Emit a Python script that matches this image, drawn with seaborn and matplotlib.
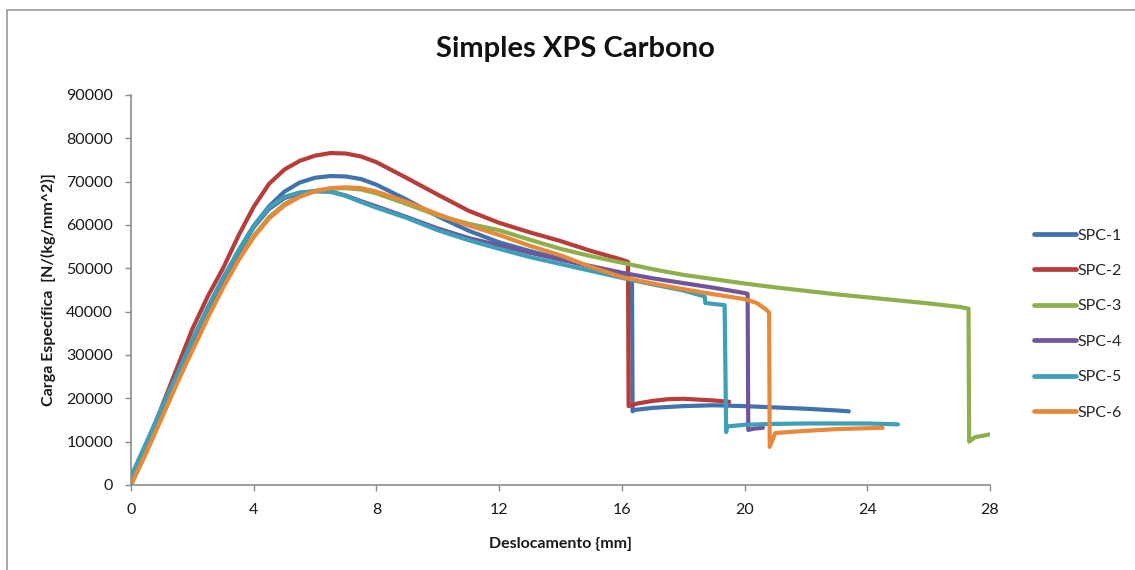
import matplotlib
matplotlib.use("Agg")
import matplotlib.pyplot as plt
import seaborn as sns
import pandas as pd
from matplotlib.patches import Rectangle

# Displacement (mm) and specific load (N/(kg/mm^2)) for each specimen
spc1_x = [0, 0.5, 1, 1.5, 2, 2.5, 3, 3.5, 4, 4.5, 5, 5.5, 6, 6.5, 7, 7.5, 8, 9, 10, 11, 12,
          13, 14, 15, 16, 16.33, 16.35, 16.4, 17, 18, 19, 20, 21, 22, 23, 23.4]
spc1_y = [500, 8500, 17000, 25000, 33000, 40500, 47500, 54000, 59800, 64300, 67700, 69800,
          70900, 71300, 71200, 70600, 69300, 65800, 62000, 58700, 56000, 54000, 52200, 50300,
          48300, 47500, 17000, 17300, 17800, 18200, 18400, 18200, 17900, 17600, 17200, 17000]

spc2_x = [0, 0.5, 1, 1.5, 2, 2.5, 3, 3.5, 4, 4.5, 5, 5.5, 6, 6.5, 7, 7.5, 8, 9, 10, 11, 12,
          13, 14, 15, 16, 16.2, 16.22, 16.5, 17, 17.5, 18, 18.5, 19, 19.5]
spc2_y = [500, 9000, 18000, 27000, 36000, 43500, 50000, 57500, 64200, 69500, 72800, 74800,
          76000, 76600, 76500, 75800, 74500, 70800, 67000, 63300, 60500, 58300, 56300, 54000,
          52000, 51500, 18200, 18800, 19400, 19800, 19900, 19700, 19500, 19200]

spc3_x = [0, 0.5, 1, 1.5, 2, 2.5, 3, 3.5, 4, 4.5, 5, 5.5, 6, 6.5, 7, 7.5, 8, 9, 10, 11, 12,
          13, 14, 15, 16, 17, 18, 19, 20, 21, 22, 23, 24, 25, 26, 27, 27.3, 27.32, 27.5, 28]
spc3_y = [0, 7500, 15500, 23500, 31500, 39000, 46000, 52500, 57500, 61800, 64800, 66800,
          67900, 68400, 68500, 68200, 67300, 64800, 62200, 60300, 58800, 56600, 54500, 52800,
          51300, 49800, 48500, 47500, 46500, 45600, 44800, 44000, 43300, 42600, 41900, 41100,
          40700, 10000, 11000, 11700]

spc4_x = [0, 0.5, 1, 1.5, 2, 2.5, 3, 3.5, 4, 4.5, 5, 5.5, 6, 6.5, 7, 7.5, 8, 9, 10, 11, 12,
          13, 14, 15, 16, 17, 18, 19, 20, 20.1, 20.12, 20.3, 20.6]
spc4_y = [1500, 9500, 17500, 25300, 33300, 40800, 47500, 53800, 59500, 63700, 66200, 67400,
          67800, 67700, 66800, 65500, 64300, 61800, 59200, 57000, 55300, 53600, 52000, 50500,
          49000, 47700, 46600, 45500, 44300, 44100, 12700, 13000, 13200]

spc5_x = [0, 0.5, 1, 1.5, 2, 2.5, 3, 3.5, 4, 4.5, 5, 5.5, 6, 6.5, 7, 7.5, 8, 9, 10, 11, 12,
          13, 14, 15, 16, 17, 18, 18.7, 18.72, 19.35, 19.4, 19.42, 20, 21, 22, 23, 24, 25]
spc5_y = [2000, 9800, 17800, 25500, 33500, 41000, 47800, 54000, 59800, 64000, 66500, 67500,
          67800, 67700, 66700, 65300, 64000, 61600, 58800, 56500, 54500, 52600, 51000, 49400,
          47800, 46300, 44900, 43500, 42000, 41500, 12200, 13500, 13900, 14100, 14200, 14200,
          14200, 14000]

spc6_x = [0, 0.5, 1, 1.5, 2, 2.5, 3, 3.5, 4, 4.5, 5, 5.5, 6, 6.5, 7, 7.5, 8, 9, 10, 11, 12,
          13, 14, 15, 16, 17, 18, 19, 20, 20.4, 20.7, 20.8, 20.82, 21, 22, 23, 24, 24.5]
spc6_y = [0, 7600, 15500, 23500, 31000, 38500, 45500, 51800, 57200, 61500, 64500, 66500,
          67800, 68500, 68700, 68500, 67700, 65300, 62500, 59900, 57700, 55200, 53000, 50300,
          48000, 46500, 45200, 44000, 42900, 42000, 40500, 39800, 8800, 12000, 12500, 12900,
          13100, 13200]

labels = ["SPC-1", "SPC-2", "SPC-3", "SPC-4", "SPC-5", "SPC-6"]
colors = ["#4272AE", "#B83D3A", "#8DB04C", "#71559A", "#3DA0B8", "#E8893A"]
x_ticks = [0, 4, 8, 12, 16, 20, 24, 28]
y_ticks = [0, 10000, 20000, 30000, 40000, 50000, 60000, 70000, 80000, 90000]

series = [(spc1_x, spc1_y), (spc2_x, spc2_y), (spc3_x, spc3_y),
          (spc4_x, spc4_y), (spc5_x, spc5_y), (spc6_x, spc6_y)]
frames = []
for name, (xs, ys) in zip(labels, series):
    frames.append(pd.DataFrame({"x": xs, "y": ys, "specimen": name}))
df = pd.concat(frames, ignore_index=True)

sns.set_style("white")
plt.rcParams["font.family"] = ["Lato", "DejaVu Sans"]

fig = plt.figure(figsize=(11.35, 5.7), dpi=100)
ax = fig.add_axes([131 / 1135, 85 / 570, (990 - 131) / 1135, (485 - 95) / 570])

sns.lineplot(data=df, x="x", y="y", hue="specimen", hue_order=labels,
             palette=colors, sort=False, estimator=None, units="specimen",
             linewidth=3.0, ax=ax, legend=False)

ax.set_xlim(0, 28)
ax.set_ylim(0, 90000)
ax.set_xticks(x_ticks)
ax.set_yticks(y_ticks)
ax.set_xticklabels([str(t) for t in x_ticks])
ax.set_yticklabels([str(t) for t in y_ticks])

for side in ("top", "right"):
    ax.spines[side].set_visible(False)
for side in ("left", "bottom"):
    ax.spines[side].set_color("#8c8c8c")
    ax.spines[side].set_linewidth(1.2)
ax.tick_params(axis="both", which="major", length=4, width=1.0, color="#8c8c8c",
               labelsize=11.5, labelcolor="#1a1a1a", direction="out")
ax.tick_params(axis="y", pad=9, left=True)
ax.tick_params(axis="x", pad=9, bottom=True)

ax.set_xlabel("Deslocamento {mm]", fontsize=11.5, fontweight="bold", color="#1a1a1a", labelpad=14)
ax.set_ylabel("Carga Específica  [N/(kg/mm^2)]", fontsize=11.5, fontweight="bold",
              color="#1a1a1a", labelpad=7)

fig.text(575 / 1135, 1 - 49 / 570, "Simples XPS Carbono", ha="center", va="center",
         fontsize=21, fontweight="bold", color="#111111")

handles = [plt.Line2D([0], [0], color=c, linewidth=3.4) for c in colors]
fig.legend(handles, labels, loc="center left", bbox_to_anchor=(1028 / 1135, 1 - 324 / 570),
           frameon=False, fontsize=11.5, handlelength=2.6, handletextpad=0.1,
           labelspacing=1.33, borderaxespad=0)

# chart-area frame
fig.add_artist(Rectangle((7 / 1135, -0.05), 1.2, 1 - 10 / 570 + 0.05,
                         transform=fig.transFigure, fill=False,
                         edgecolor="#9a9a9a", linewidth=1.2))

fig.savefig("out.png", dpi=100)
